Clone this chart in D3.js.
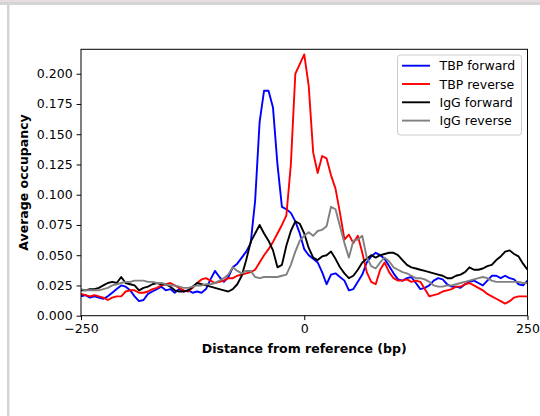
<!DOCTYPE html>
<html>
<head>
<meta charset="utf-8">
<script src="https://cdn.jsdelivr.net/npm/d3@7"></script>
<style>
  body { margin: 0; background: #fff; }
  svg { display: block; font-family: "DejaVu Sans", sans-serif; }
</style>
</head>
<body>
<svg id="chart" width="540" height="416"></svg>
<script>
// positions (bp) every 5 bp from -250 to 250
const positions = d3.range(-250, 251, 5);

const tbpForward = [
  0.016, 0.017, 0.015, 0.016, 0.015, 0.014, 0.016, 0.019, 0.022, 0.025,
  0.024, 0.021, 0.016, 0.012, 0.013, 0.018, 0.020, 0.022, 0.024, 0.021,
  0.022, 0.019, 0.022, 0.020, 0.021, 0.019, 0.020, 0.019, 0.022, 0.030,
  0.037, 0.032, 0.028, 0.032, 0.040, 0.043, 0.048, 0.053, 0.060, 0.095,
  0.160, 0.186, 0.186, 0.172, 0.125, 0.090, 0.088, 0.085, 0.078, 0.068,
  0.055, 0.050, 0.047, 0.044, 0.036, 0.026, 0.034, 0.035, 0.032, 0.029,
  0.021, 0.022, 0.028, 0.034, 0.044, 0.049, 0.052, 0.050, 0.047, 0.041,
  0.035, 0.030, 0.029, 0.031, 0.032, 0.027, 0.022, 0.023, 0.025, 0.029,
  0.031, 0.030, 0.026, 0.024, 0.024, 0.023, 0.026, 0.028, 0.029, 0.027,
  0.025, 0.029, 0.033, 0.033, 0.031, 0.033, 0.031, 0.030, 0.026, 0.025,
  0.029
];

const tbpReverse = [
  0.018, 0.017, 0.016, 0.017, 0.016, 0.015, 0.013, 0.015, 0.016, 0.016,
  0.020, 0.021, 0.021, 0.019, 0.019, 0.020, 0.022, 0.023, 0.025, 0.026,
  0.027, 0.025, 0.023, 0.021, 0.020, 0.023, 0.027, 0.030, 0.031, 0.029,
  0.027, 0.028, 0.029, 0.031, 0.031, 0.033, 0.034, 0.035, 0.036, 0.038,
  0.044, 0.050, 0.055, 0.061, 0.068, 0.075, 0.083, 0.125, 0.200, 0.208,
  0.216, 0.190, 0.135, 0.118, 0.132, 0.130, 0.116, 0.105, 0.085, 0.063,
  0.067, 0.060, 0.066, 0.052, 0.036, 0.028, 0.026, 0.038, 0.044, 0.036,
  0.031, 0.029, 0.029, 0.030, 0.028, 0.029, 0.028, 0.022, 0.016, 0.017,
  0.018, 0.020, 0.021, 0.022, 0.024, 0.024, 0.026, 0.027, 0.025, 0.023,
  0.021, 0.018, 0.016, 0.014, 0.012, 0.010, 0.012, 0.015, 0.016, 0.016,
  0.016
];

const iggForward = [
  0.021, 0.021, 0.022, 0.022, 0.023, 0.025, 0.027, 0.028, 0.027, 0.032,
  0.027, 0.026, 0.025, 0.021, 0.023, 0.024, 0.026, 0.027, 0.026, 0.026,
  0.024, 0.021, 0.020, 0.020, 0.021, 0.024, 0.027, 0.026, 0.025, 0.024,
  0.023, 0.022, 0.021, 0.020, 0.022, 0.026, 0.033, 0.046, 0.061, 0.068,
  0.075, 0.068, 0.062, 0.054, 0.040, 0.042, 0.058, 0.070, 0.078, 0.076,
  0.068, 0.056, 0.048, 0.046, 0.049, 0.050, 0.053, 0.047, 0.040, 0.035,
  0.031, 0.033, 0.038, 0.044, 0.047, 0.050, 0.048, 0.050, 0.051, 0.052,
  0.052, 0.050, 0.046, 0.042, 0.040, 0.039, 0.038, 0.037, 0.036, 0.035,
  0.034, 0.033, 0.031, 0.031, 0.033, 0.034, 0.036, 0.040, 0.038, 0.038,
  0.039, 0.041, 0.042, 0.046, 0.049, 0.053, 0.054, 0.051, 0.049, 0.043,
  0.038
];

const iggReverse = [
  0.022, 0.021, 0.021, 0.021, 0.021, 0.022, 0.023, 0.025, 0.026, 0.027,
  0.028, 0.028, 0.029, 0.029, 0.029, 0.028, 0.028, 0.027, 0.027, 0.026,
  0.025, 0.025, 0.024, 0.023, 0.023, 0.024, 0.025, 0.025, 0.026, 0.026,
  0.027, 0.029, 0.031, 0.034, 0.040, 0.037, 0.035, 0.037, 0.037, 0.032,
  0.031, 0.032, 0.032, 0.032, 0.032, 0.033, 0.034, 0.042, 0.053, 0.062,
  0.066, 0.069, 0.066, 0.070, 0.071, 0.074, 0.090, 0.088, 0.074, 0.060,
  0.048, 0.062, 0.063, 0.066, 0.048, 0.041, 0.039, 0.044, 0.048, 0.045,
  0.040, 0.038, 0.036, 0.035, 0.033, 0.031, 0.031, 0.030, 0.028, 0.025,
  0.024, 0.024, 0.025, 0.025, 0.026, 0.027, 0.028, 0.029, 0.030, 0.031,
  0.032, 0.031, 0.029, 0.028, 0.028, 0.028, 0.028, 0.028, 0.028, 0.027,
  0.027
];

const seriesNames = ['TBP forward', 'TBP reverse', 'IgG forward', 'IgG reverse'];
const seriesColors = ['#0000ff', '#ff0000', '#000000', '#808080'];
const seriesValues = [tbpForward, tbpReverse, iggForward, iggReverse];

const xTicks = [-250, 0, 250];
const yTicks = [0, 0.025, 0.05, 0.075, 0.1, 0.125, 0.15, 0.175, 0.2];

const margin = { left: 81, right: 527.5, top: 49.3, bottom: 315.7 };

const svg = d3.select('#chart');

// page decoration around the figure
svg.append('rect').attr('x', 0).attr('y', 0).attr('width', 540).attr('height', 2)
  .attr('fill', '#e6dde0');
svg.append('rect').attr('x', 0).attr('y', 2).attr('width', 540).attr('height', 3)
  .attr('fill', '#d4d4d4');
svg.append('rect').attr('x', 7).attr('y', 5).attr('width', 2.5).attr('height', 411)
  .attr('fill', '#d4d4d4');

const x = d3.scaleLinear().domain([-250, 250]).range([margin.left, margin.right]);
const y = d3.scaleLinear().domain([0, 0.2202]).range([margin.bottom, margin.top]);

const line = d3.line()
  .x((d, i) => x(positions[i]))
  .y(d => y(d));

const plot = svg.append('g');
plot.append('clipPath').attr('id', 'clip')
  .append('rect')
  .attr('x', margin.left).attr('y', margin.top)
  .attr('width', margin.right - margin.left)
  .attr('height', margin.bottom - margin.top);

plot.append('g')
  .attr('clip-path', 'url(#clip)')
  .selectAll('path')
  .data(seriesValues)
  .join('path')
    .attr('d', line)
    .attr('fill', 'none')
    .attr('stroke', (d, i) => seriesColors[i])
    .attr('stroke-width', 1.9)
    .attr('stroke-linejoin', 'round');

// axes
const xAxis = svg.append('g')
  .attr('transform', `translate(0,${margin.bottom})`)
  .call(d3.axisBottom(x).tickValues(xTicks).tickSize(4.4).tickPadding(4)
    .tickFormat(d => d < 0 ? '\u2212' + Math.abs(d) : d));

const yAxis = svg.append('g')
  .attr('transform', `translate(${margin.left},0)`)
  .call(d3.axisLeft(y).tickValues(yTicks).tickSize(4.4).tickPadding(4)
    .tickFormat(d3.format('.3f')));

[xAxis, yAxis].forEach(a => {
  a.select('.domain').remove();
  a.selectAll('.tick line').attr('stroke', '#000').attr('stroke-width', 1);
  a.selectAll('.tick text')
    .attr('font-family', 'DejaVu Sans')
    .attr('font-size', 12.5)
    .attr('fill', '#000');
});

// frame
svg.append('rect')
  .attr('x', margin.left).attr('y', margin.top)
  .attr('width', margin.right - margin.left)
  .attr('height', margin.bottom - margin.top)
  .attr('fill', 'none')
  .attr('stroke', '#000')
  .attr('stroke-width', 1);

// axis labels
svg.append('text')
  .attr('x', (margin.left + margin.right) / 2)
  .attr('y', 353)
  .attr('text-anchor', 'middle')
  .attr('font-size', 12.5)
  .attr('font-weight', 'bold')
  .text('Distance from reference (bp)');

svg.append('text')
  .attr('transform', `translate(28,${(margin.top + margin.bottom) / 2}) rotate(-90)`)
  .attr('text-anchor', 'middle')
  .attr('font-size', 12.5)
  .attr('font-weight', 'bold')
  .text('Average occupancy');

// legend
const legend = svg.append('g');
legend.append('rect')
  .attr('x', 397.5).attr('y', 55)
  .attr('width', 124).attr('height', 80)
  .attr('rx', 3)
  .attr('fill', '#fff')
  .attr('fill-opacity', 0.8)
  .attr('stroke', '#cccccc')
  .attr('stroke-width', 1);

const entries = legend.selectAll('g.entry')
  .data(seriesNames)
  .join('g')
    .attr('class', 'entry')
    .attr('transform', (d, i) => `translate(0,${65.7 + i * 18.3})`);

entries.append('line')
  .attr('x1', 402).attr('x2', 430)
  .attr('stroke', (d, i) => seriesColors[i])
  .attr('stroke-width', 1.9);

entries.append('text')
  .attr('x', 439.5)
  .attr('y', 4.5)
  .attr('font-size', 12.5)
  .text(d => d);
</script>
</body>
</html>
